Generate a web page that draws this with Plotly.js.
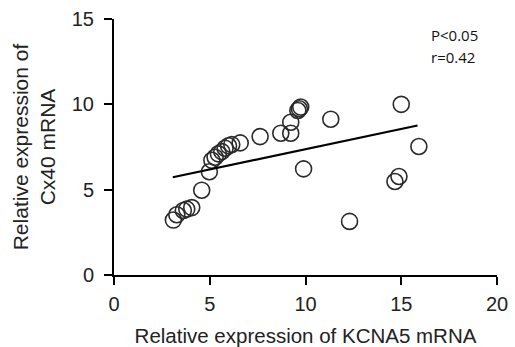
<!DOCTYPE html>
<html>
<head>
<meta charset="utf-8">
<script src="https://cdn.plot.ly/plotly-3.0.1.min.js"></script>
<style>html,body{margin:0;padding:0;background:#fff;}#chart{width:515px;height:347px;}</style>
</head>
<body>
<div id="chart"></div>
<script>
// Relative expression of KCNA5 mRNA (x) vs Cx40 mRNA (y)
const kcna5 = [3.10, 3.28, 3.62, 3.80, 4.06, 4.58, 4.98, 5.11, 5.28, 5.45, 5.63, 5.80, 5.98, 6.15, 6.59, 7.63, 8.71, 9.23, 9.23, 9.60, 9.68, 9.75, 9.90, 11.32, 12.30, 14.67, 14.88, 15.00, 15.92];
const cx40  = [3.22, 3.53, 3.78, 3.86, 3.95, 4.97, 6.05, 6.72, 6.90, 7.10, 7.23, 7.43, 7.57, 7.64, 7.74, 8.11, 8.31, 8.31, 8.95, 9.64, 9.74, 9.84, 6.22, 9.13, 3.14, 5.48, 5.77, 10.0, 7.53];
// fitted regression line endpoints
const fitX = [3.07, 15.85];
const fitY = [5.73, 8.76];
const xTicks = [0, 5, 10, 15, 20];
const yTicks = [0, 5, 10, 15];
const statText = ['P<0.05', 'r=0.42'];

const FONT = 'Liberation Sans, Arial, sans-serif';
const traces = [
  {
    x: kcna5, y: cx40, type: 'scatter', mode: 'markers',
    marker: {symbol: 'circle-open', size: 16, color: '#2a2a2a', line: {width: 1.6, color: '#2a2a2a'}},
    hoverinfo: 'none'
  },
  {
    x: fitX, y: fitY, type: 'scatter', mode: 'lines',
    line: {color: '#000', width: 2.2}, hoverinfo: 'none'
  }
];
const layout = {
  width: 515, height: 347,
  margin: {l: 114, r: 18, t: 19, b: 72},
  paper_bgcolor: '#fff', plot_bgcolor: '#fff',
  showlegend: false,
  font: {family: FONT, color: '#222', size: 20},
  xaxis: {
    range: [0, 20], tickvals: xTicks, ticktext: xTicks.map(String),
    showgrid: false, zeroline: false, showline: true, linecolor: '#000', linewidth: 2,
    ticks: 'outside', ticklen: 8, tickwidth: 2, tickcolor: '#000', ticklabelstandoff: 2,
    tickfont: {family: FONT, size: 20, color: '#222'},
    title: {text: 'Relative expression of KCNA5 mRNA', font: {family: FONT, size: 20.5, color: '#222'}, standoff: 16}
  },
  yaxis: {
    range: [0, 15], tickvals: yTicks, ticktext: yTicks.map(String),
    showgrid: false, zeroline: false, showline: true, linecolor: '#000', linewidth: 2,
    ticks: 'outside', ticklen: 8, tickwidth: 2, tickcolor: '#000', ticklabelstandoff: 6,
    tickfont: {family: FONT, size: 20, color: '#222'},
    title: {text: 'Relative expression of<br>Cx40 mRNA', font: {family: FONT, size: 21, color: '#222'}, standoff: 10}
  },
  annotations: [
    {text: statText[0], xref: 'paper', yref: 'paper', x: 0.822, y: 0.9375, xanchor: 'left', yanchor: 'middle',
     showarrow: false, align: 'left', font: {family: 'Open Sans, sans-serif', size: 15, color: '#111'}},
    {text: statText[1], xref: 'paper', yref: 'paper', x: 0.822, y: 0.852, xanchor: 'left', yanchor: 'middle',
     showarrow: false, align: 'left', font: {family: 'Open Sans, sans-serif', size: 15, color: '#111'}}
  ]
};
Plotly.newPlot('chart', traces, layout, {staticPlot: true, displayModeBar: false});
</script>
</body>
</html>
